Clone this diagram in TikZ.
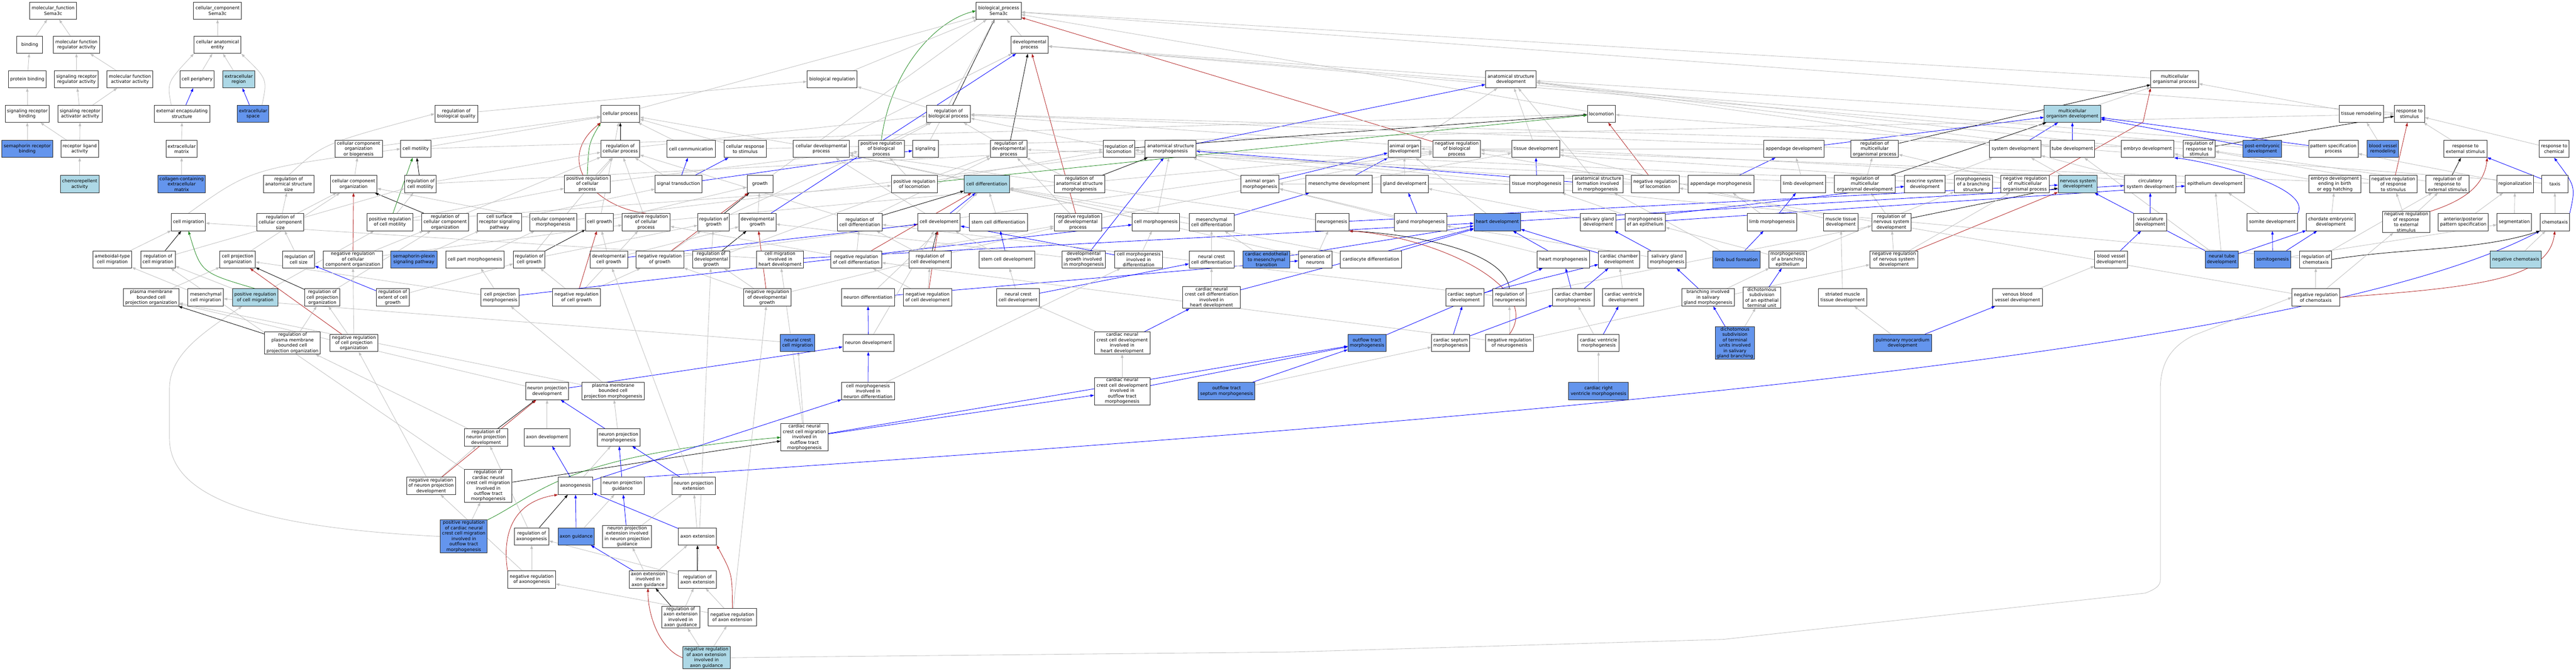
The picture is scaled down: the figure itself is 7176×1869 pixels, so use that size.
\documentclass[tikz,border=0pt]{standalone}
\usepackage{fontspec}
\setmainfont{DejaVu Sans}
\usetikzlibrary{arrows.meta,backgrounds}
\definecolor{cblue}{HTML}{6495ED}
\definecolor{lblue}{HTML}{ADD8E6}
\definecolor{egray}{HTML}{C0C0C0}
\definecolor{eblue}{HTML}{0000FF}
\definecolor{ered}{HTML}{B22222}
\definecolor{egreen}{HTML}{228B22}
\newcommand\mye[3]{\draw[#1] (#2) -- (#3);}
\begin{document}
\begin{tikzpicture}[x=1pt,y=-1pt,
 box/.style={draw=black!85,line width=1.3pt,fill=white,align=center,minimum height=48pt,inner xsep=2pt,inner ysep=2pt,font=\fontsize{12.5}{15}\selectfont},
 bf/.style={fill=cblue}, lf/.style={fill=lblue},
 edgebase/.style={line width=1.2pt,-{Triangle[length=10pt,width=7pt]}},
 isag/.style={edgebase,egray},
 partb/.style={edgebase,eblue},
 regk/.style={edgebase,black},
 posg/.style={edgebase,egreen},
 negr/.style={edgebase,ered}]
\useasboundingbox (0,0) rectangle (7176,1869);
% ---------- molecular function ----------
\node[box,minimum width=130pt] (mf) at (148,30) {molecular\_function\\Sema3c};
\node[box,minimum width=72pt] (binding) at (83,125) {binding};
\node[box,minimum width=128pt] (mfreg) at (213,125) {molecular function\\regulator activity};
\node[box,minimum width=104pt] (protbind) at (76,221) {protein binding};
\node[box,minimum width=122pt] (sigrr) at (213,221) {signaling receptor\\regulator activity};
\node[box,minimum width=128pt] (mfact) at (362,221) {molecular function\\activator activity};
\node[box,minimum width=122pt] (sigrb) at (76,317) {signaling receptor\\binding};
\node[box,minimum width=123pt] (sigra) at (223,317) {signaling receptor\\activator activity};
\node[box,bf,minimum width=141pt] (semarb) at (76,415) {semaphorin receptor\\binding};
\node[box,minimum width=105pt] (rla) at (222,415) {receptor ligand\\activity};
\node[box,lf,minimum width=107pt] (chemorep) at (222,513) {chemorepellent\\activity};
% ---------- cellular component ----------
\node[box,minimum width=133pt] (cc) at (606,30) {cellular\_component\\Sema3c};
\node[box,minimum width=131pt] (cae) at (606,125) {cellular anatomical\\entity};
\node[box,minimum width=94pt] (cellper) at (549,221) {cell periphery};
\node[box,lf,minimum width=88pt] (exreg) at (665,221) {extracellular\\region};
\node[box,minimum width=155pt] (ees) at (507,317) {external encapsulating\\structure};
\node[box,bf,minimum width=88pt] (exspace) at (705,317) {extracellular\\space};
\node[box,minimum width=87pt] (ecm) at (506,415) {extracellular\\matrix};
\node[box,bf,minimum width=133pt] (cecm) at (506,513) {collagen-containing\\extracellular\\matrix};
% ---------- biological process ----------
\node[box,minimum width=125pt] (bp) at (2782,30) {biological\_process\\Sema3c};
\node[box,minimum width=104pt] (devproc) at (2868,125) {developmental\\process};
\node[box,minimum width=140pt] (bioreg) at (2318,221) {biological regulation};
\node[box,minimum width=141pt] (asd) at (4209,221) {anatomical structure\\development};
\node[box,minimum width=133pt] (mop) at (6058,221) {multicellular\\organismal process};
% row 317
\node[box,minimum width=119pt] (rbq) at (1271,317) {regulation of\\biological quality};
\node[box,minimum width=108pt] (cellproc) at (1728,317) {cellular process};
\node[box,minimum width=123pt] (rbp) at (2642,317) {regulation of\\biological process};
\node[box,minimum width=78pt] (loco) at (4461,317) {locomotion};
\node[box,lf,minimum width=157pt] (mod) at (5773,317) {multicellular\\organism development};
\node[box,minimum width=123pt] (tisrem) at (6578,317) {tissue remodeling};
\node[box,minimum width=84pt] (rts) at (6712,317) {response to\\stimulus};
% row 415
\node[box,minimum width=132pt] (ccob) at (999,415) {cellular component\\organization\\or biogenesis};
\node[box,minimum width=84pt] (cellmot) at (1158,415) {cell motility};
\node[box,minimum width=108pt] (rcp) at (1728,415) {regulation of\\cellular process};
\node[box,minimum width=134pt] (cellcomm) at (1925,415) {cell communication};
\node[box,minimum width=117pt] (crs) at (2076,415) {cellular response\\to stimulus};
\node[box,minimum width=156pt] (cdp) at (2288,415) {cellular developmental\\process};
\node[box,minimum width=128pt] (prbp) at (2455,415) {positive regulation\\of biological\\process};
\node[box,minimum width=71pt] (signaling) at (2578,415) {signaling};
\node[box,minimum width=103pt] (rdp) at (2810,415) {regulation of\\developmental\\process};
\node[box,minimum width=88pt] (rloco) at (3117,415) {regulation of\\locomotion};
\node[box,minimum width=142pt] (asm) at (3261,415) {anatomical structure\\morphogenesis};
\node[box,minimum width=91pt] (aod) at (3912,415) {animal organ\\development};
\node[box,minimum width=133pt] (nrbp) at (4058,415) {negative regulation\\of biological\\process};
\node[box,minimum width=134pt] (tisdev) at (4278,415) {tissue development};
\node[box,minimum width=168pt] (appdev) at (4997,415) {appendage development};
\node[box,minimum width=133pt] (rmop) at (5222,415) {regulation of\\multicellular\\organismal process};
\node[box,minimum width=143pt] (sysdev) at (5614,415) {system development};
\node[box,minimum width=124pt] (tubedev) at (5773,415) {tube development};
\node[box,minimum width=146pt] (embdev) at (5983,415) {embryo development};
\node[box,minimum width=89pt] (rrts) at (6126,415) {regulation of\\response to\\stimulus};
\node[box,bf,minimum width=108pt] (ped) at (6302,415) {post-embryonic\\development};
\node[box,minimum width=138pt] (psp) at (6500,415) {pattern specification\\process};
\node[box,bf,minimum width=88pt] (bvr) at (6638,415) {blood vessel\\remodeling};
\node[box,minimum width=120pt] (rtes) at (6868,415) {response to\\external stimulus};
\node[box,minimum width=83pt] (rtc) at (7115,415) {response to\\chemical};
% row 513
\node[box,minimum width=141pt] (rass) at (804,513) {regulation of\\anatomical structure\\size};
\node[box,minimum width=130pt] (cco) at (985,513) {cellular component\\organization};
\node[box,minimum width=88pt] (rcm) at (1171,513) {regulation of\\cell motility};
\node[box,minimum width=128pt] (prcp) at (1636,513) {positive regulation\\of cellular\\process};
\node[box,minimum width=130pt] (sigtrans) at (1890,513) {signal transduction};
\node[box,minimum width=72pt] (growth) at (2117,513) {growth};
\node[box,minimum width=128pt] (prloco) at (2547,513) {positive regulation\\of locomotion};
\node[box,lf,minimum width=126pt] (celldiff) at (2749,513) {cell differentiation};
\node[box,minimum width=141pt] (rasm) at (3007,513) {regulation of\\anatomical structure\\morphogenesis};
\node[box,minimum width=106pt] (aom) at (3510,513) {animal organ\\morphogenesis};
\node[box,minimum width=184pt] (mesdev) at (3730,513) {mesenchyme development};
\node[box,minimum width=131pt] (glanddev) at (3913,513) {gland development};
\node[box,minimum width=150pt] (tismorph) at (4281,513) {tissue morphogenesis};
\node[box,minimum width=140pt] (asfim) at (4451,513) {anatomical structure\\formation involved\\in morphogenesis};
\node[box,minimum width=133pt] (nrloco) at (4611,513) {negative regulation\\of locomotion};
\node[box,minimum width=183pt] (appmorph) at (4794,513) {appendage morphogenesis};
\node[box,minimum width=125pt] (limbdev) at (5023,513) {limb development};
\node[box,minimum width=169pt] (rmod) at (5195,513) {regulation of\\multicellular\\organismal development};
\node[box,minimum width=113pt] (exodev) at (5362,513) {exocrine system\\development};
\node[box,minimum width=106pt] (mbs) at (5497,513) {morphogenesis\\of a branching\\structure};
\node[box,minimum width=134pt] (nrmop) at (5641,513) {negative regulation\\of multicellular\\organismal process};
\node[box,lf,minimum width=109pt] (nsd) at (5788,513) {nervous system\\development};
\node[box,minimum width=144pt] (csd) at (5990,513) {circulatory\\system development};
\node[box,minimum width=165pt] (epidev) at (6170,513) {epithelium development};
\node[box,minimum width=146pt] (edbeh) at (6504,513) {embryo development\\ending in birth\\or egg hatching};
\node[box,minimum width=133pt] (nrrts) at (6667,513) {negative regulation\\of response\\to stimulus};
\node[box,minimum width=121pt] (rrtes) at (6818,513) {regulation of\\response to\\external stimulus};
\node[box,minimum width=102pt] (regionalization) at (7006,513) {regionalization};
\node[box,minimum width=72pt] (taxis) at (7117,513) {taxis};
% row 619
\node[box,minimum width=95pt] (cellmig) at (525,619) {cell migration};
\node[box,minimum width=130pt] (rccs) at (781,619) {regulation of\\cellular component\\size};
\node[box,minimum width=128pt] (prcm) at (1086,619) {positive regulation\\of cell motility};
\node[box,minimum width=131pt] (rcco) at (1240,619) {regulation of\\cellular component\\organization};
\node[box,minimum width=124pt] (csrsp) at (1391,619) {cell surface\\receptor signaling\\pathway};
\node[box,minimum width=130pt] (ccm) at (1541,619) {cellular component\\morphogenesis};
\node[box,minimum width=77pt] (cellgrowth) at (1670,619) {cell growth};
\node[box,minimum width=133pt] (nrcp) at (1800,619) {negative regulation\\of cellular\\process};
\node[box,minimum width=88pt] (rgrowth) at (1988,619) {regulation of\\growth};
\node[box,minimum width=103pt] (devgrowth) at (2110,619) {developmental\\growth};
\node[box,minimum width=125pt] (rcd) at (2395,619) {regulation of\\cell differentiation};
\node[box,minimum width=118pt] (celldev) at (2616,619) {cell development};
\node[box,minimum width=162pt] (scd) at (2781,619) {stem cell differentiation};
\node[box,minimum width=133pt] (nrdp) at (3003,619) {negative regulation\\of developmental\\process};
\node[box,minimum width=132pt] (cellmorph) at (3220,619) {cell morphogenesis};
\node[box,minimum width=125pt] (mcd) at (3375,619) {mesenchymal\\cell differentiation};
\node[box,minimum width=93pt] (neurogenesis) at (3711,619) {neurogenesis};
\node[box,minimum width=146pt] (glandmorph) at (3957,619) {gland morphogenesis};
\node[box,bf,minimum width=130pt] (heartdev) at (4171,619) {heart development};
\node[box,minimum width=98pt] (sgd) at (4452,619) {salivary gland\\development};
\node[box,minimum width=113pt] (moe) at (4583,619) {morphogenesis\\of an epithelium};
\node[box,minimum width=138pt] (limbmorph) at (4936,619) {limb morphogenesis};
\node[box,minimum width=96pt] (mtd) at (5128,619) {muscle tissue\\development};
\node[box,minimum width=110pt] (rnsd) at (5269,619) {regulation of\\nervous system\\development};
\node[box,minimum width=92pt] (vascdev) at (5990,619) {vasculature\\development};
\node[box,minimum width=141pt] (somdev) at (6330,619) {somite development};
\node[box,minimum width=136pt] (ced) at (6493,619) {chordate embryonic\\development};
\node[box,minimum width=133pt] (nrrtes) at (6703,619) {negative regulation\\of response\\to external\\stimulus};
\node[box,minimum width=139pt] (apps) at (6862,619) {anterior/posterior\\pattern specification};
\node[box,minimum width=96pt] (segmentation) at (7004,619) {segmentation};
\node[box,minimum width=82pt] (chemotaxis) at (7117,619) {chemotaxis};
% row 723
\node[box,minimum width=108pt] (atcm) at (313,723) {ameboidal-type\\cell migration};
\node[box,minimum width=96pt] (rcmig) at (440,723) {regulation of\\cell migration};
\node[box,minimum width=99pt] (cpo) at (662,723) {cell projection\\organization};
\node[box,minimum width=89pt] (rcs) at (832,723) {regulation of\\cell size};
\node[box,minimum width=164pt] (nrcco) at (983,723) {negative regulation\\of cellular\\component organization};
\node[box,bf,minimum width=128pt] (sps) at (1153,723) {semaphorin-plexin\\signaling pathway};
\node[box,minimum width=163pt] (cpm) at (1323,723) {cell part morphogenesis};
\node[box,minimum width=87pt] (rcg) at (1474,723) {regulation of\\cell growth};
\node[box,minimum width=104pt] (dcg) at (1696,723) {developmental\\cell growth};
\node[box,minimum width=133pt] (nrg) at (1838,723) {negative regulation\\of growth};
\node[box,minimum width=104pt] (rdg) at (1981,723) {regulation of\\developmental\\growth};
\node[box,minimum width=130pt] (cmihd) at (2173,723) {cell migration\\involved in\\heart development};
\node[box,minimum width=142pt] (nrcd) at (2385,723) {negative regulation\\of cell differentiation};
\node[box,minimum width=118pt] (rcdev) at (2591,723) {regulation of\\cell development};
\node[box,minimum width=155pt] (scdev) at (2805,723) {stem cell development};
\node[box,minimum width=121pt] (dgim) at (3019,723) {developmental\\growth involved\\in morphogenesis};
\node[box,minimum width=133pt] (cmid) at (3172,723) {cell morphogenesis\\involved in\\differentiation};
\node[box,minimum width=125pt] (nccd) at (3375,723) {neural crest\\cell differentiation};
\node[box,bf,minimum width=131pt] (cemt) at (3528,723) {cardiac endothelial\\to mesenchymal\\transition};
\node[box,minimum width=94pt] (gon) at (3664,723) {generation of\\neurons};
\node[box,minimum width=171pt] (cardiodiff) at (3819,723) {cardiocyte differentiation};
\node[box,minimum width=145pt] (heartmorph) at (4355,723) {heart morphogenesis};
\node[box,minimum width=114pt] (ccd) at (4510,723) {cardiac chamber\\development};
\node[box,minimum width=106pt] (sgm) at (4644,723) {salivary gland\\morphogenesis};
\node[box,bf,minimum width=132pt] (lbf) at (4837,723) {limb bud formation};
\node[box,minimum width=106pt] (mobe) at (4980,723) {morphogenesis\\of a branching\\epithelium};
\node[box,minimum width=134pt] (nrnsd) at (5276,723) {negative regulation\\of nervous system\\development};
\node[box,minimum width=92pt] (bvd) at (5881,723) {blood vessel\\development};
\node[box,bf,minimum width=92pt] (ntd) at (6189,723) {neural tube\\development};
\node[box,bf,minimum width=102pt] (somitogenesis) at (6331,723) {somitogenesis};
\node[box,minimum width=89pt] (rchemo) at (6451,723) {regulation of\\chemotaxis};
\node[box,lf,minimum width=143pt] (negchemo) at (7008,723) {negative chemotaxis};
% row 829
\node[box,minimum width=155pt] (pmbcpo) at (421,829) {plasma membrane\\bounded cell\\projection organization};
\node[box,minimum width=99pt] (mcm) at (573,829) {mesenchymal\\cell migration};
\node[box,lf,minimum width=127pt] (prcmig) at (711,829) {positive regulation\\of cell migration};
\node[box,minimum width=98pt] (rcpo) at (898,829) {regulation of\\cell projection\\organization};
\node[box,minimum width=92pt] (recg) at (1094,829) {regulation of\\extent of cell\\growth};
\node[box,minimum width=106pt] (cprojm) at (1393,829) {cell projection\\morphogenesis};
\node[box,minimum width=133pt] (nrcg) at (1606,829) {negative regulation\\of cell growth};
\node[box,minimum width=132pt] (nrdg) at (2137,829) {negative regulation\\of developmental\\growth};
\node[box,minimum width=147pt] (neurondiff) at (2418,829) {neuron differentiation};
\node[box,minimum width=136pt] (nrcdev) at (2584,829) {negative regulation\\of cell development};
\node[box,minimum width=118pt] (nccdev) at (2836,829) {neural crest\\cell development};
\node[box,minimum width=161pt] (cnccdhd) at (3375,829) {cardiac neural\\crest cell differentiation\\involved in\\heart development};
\node[box,minimum width=107pt] (csdev) at (4081,829) {cardiac septum\\development};
\node[box,minimum width=93pt] (rneurogen) at (4205,829) {regulation of\\neurogenesis};
\node[box,minimum width=115pt] (ccmorph) at (4383,829) {cardiac chamber\\morphogenesis};
\node[box,minimum width=115pt] (cvd) at (4522,829) {cardiac ventricle\\development};
\node[box,minimum width=147pt] (bisgm) at (4758,829) {branching involved\\in salivary\\gland morphogenesis};
\node[box,minimum width=104pt] (dseetu) at (4908,829) {dichotomous\\subdivision\\of an epithelial\\terminal unit};
\node[box,minimum width=134pt] (smtd) at (5133,829) {striated muscle\\tissue development};
\node[box,minimum width=138pt] (vbvd) at (5620,829) {venous blood\\vessel development};
\node[box,minimum width=133pt] (nrchemo) at (6451,829) {negative regulation\\of chemotaxis};
% row 956
\node[box,minimum width=155pt] (rpmbcpo) at (815,956) {regulation of\\plasma membrane\\bounded cell\\projection organization};
\node[box,minimum width=133pt] (nrcpo) at (986,956) {negative regulation\\of cell projection\\organization};
\node[box,bf,minimum width=96pt] (nccm) at (2222,956) {neural crest\\cell migration};
\node[box,minimum width=142pt] (neurondev) at (2419,956) {neuron development};
\node[box,minimum width=155pt] (cnccdhd2) at (3126,956) {cardiac neural\\crest cell development\\involved in\\heart development};
\node[box,bf,minimum width=106pt] (otm) at (3808,956) {outflow tract\\morphogenesis};
\node[box,minimum width=106pt] (csm) at (4041,956) {cardiac septum\\morphogenesis};
\node[box,minimum width=133pt] (nrneurogen) at (4205,956) {negative regulation\\of neurogenesis};
\node[box,minimum width=115pt] (cvm) at (4453,956) {cardiac ventricle\\morphogenesis};
\node[box,bf,minimum width=110pt] (dstu) at (4833,956) {dichotomous\\subdivision\\of terminal\\units involved\\in salivary\\gland branching};
\node[box,bf,minimum width=162pt] (pmd) at (5300,956) {pulmonary myocardium\\development};
% row 1090
\node[box,minimum width=119pt] (npd) at (1524,1090) {neuron projection\\development};
\node[box,minimum width=173pt] (pmbcpm) at (1708,1090) {plasma membrane\\bounded cell\\projection morphogenesis};
\node[box,minimum width=147pt] (cmind) at (2418,1090) {cell morphogenesis\\involved in\\neuron differentiation};
\node[box,minimum width=155pt] (cnccdotm) at (3126,1090) {cardiac neural\\crest cell development\\involved in\\outflow tract\\morphogenesis};
\node[box,bf,minimum width=158pt] (otsm) at (3417,1090) {outflow tract\\septum morphogenesis};
\node[box,bf,minimum width=166pt] (crvm) at (4453,1090) {cardiac right\\ventricle morphogenesis};
% row 1219
\node[box,minimum width=120pt] (rnpd) at (1354,1219) {regulation of\\neuron projection\\development};
\node[box,minimum width=128pt] (axondev) at (1524,1219) {axon development};
\node[box,minimum width=119pt] (npm) at (1723,1219) {neuron projection\\morphogenesis};
\node[box,minimum width=131pt] (cnccmotm) at (2241,1219) {cardiac neural\\crest cell migration\\involved in\\outflow tract\\morphogenesis};
% row 1354
\node[box,minimum width=137pt] (nrnpd) at (1201,1354) {negative regulation\\of neuron projection\\development};
\node[box,minimum width=133pt] (rcnccm) at (1360,1354) {regulation of\\cardiac neural\\crest cell migration\\involved in\\outflow tract\\morphogenesis};
\node[box,minimum width=96pt] (axonogenesis) at (1603,1354) {axonogenesis};
\node[box,minimum width=121pt] (npg) at (1734,1354) {neuron projection\\guidance};
\node[box,minimum width=120pt] (npe) at (1932,1354) {neuron projection\\extension};
% row 1495
\node[box,bf,minimum width=131pt] (prcnccm) at (1292,1495) {positive regulation\\of cardiac neural\\crest cell migration\\involved in\\outflow tract\\morphogenesis};
\node[box,minimum width=96pt] (raxon) at (1481,1495) {regulation of\\axonogenesis};
\node[box,bf,minimum width=101pt] (axonguid) at (1605,1495) {axon guidance};
\node[box,minimum width=136pt] (npeinpg) at (1747,1495) {neuron projection\\extension involved\\in neuron projection\\guidance};
\node[box,minimum width=106pt] (axonext) at (1943,1495) {axon extension};
% row 1615
\node[box,minimum width=133pt] (nraxon) at (1481,1615) {negative regulation\\of axonogenesis};
\node[box,minimum width=105pt] (aeiag) at (1805,1615) {axon extension\\involved in\\axon guidance};
\node[box,minimum width=106pt] (raxonext) at (1943,1615) {regulation of\\axon extension};
% row 1720
\node[box,minimum width=106pt] (raeiag) at (1896,1720) {regulation of\\axon extension\\involved in\\axon guidance};
\node[box,minimum width=134pt] (nraxonext) at (2040,1720) {negative regulation\\of axon extension};
% row 1833
\node[box,lf,minimum width=132pt] (nraeiag) at (1968,1833) {negative regulation\\of axon extension\\involved in\\axon guidance};

\begin{pgfonlayer}{background}
\fill[white] (0,0) rectangle (7176,1869);
% MF
\mye{isag}{binding}{mf}\mye{isag}{mfreg}{mf}\mye{isag}{protbind}{binding}
\mye{isag}{sigrr}{mfreg}\mye{isag}{mfact}{mfreg}\mye{isag}{sigrb}{protbind}
\mye{isag}{sigra}{sigrr}\mye{isag}{sigra}{mfact}\mye{isag}{semarb}{sigrb}
\mye{isag}{rla}{sigrb}\mye{isag}{rla}{sigra}\mye{isag}{chemorep}{rla}
% CC
\mye{isag}{cae}{cc}\mye{isag}{cellper}{cae}\mye{isag}{exreg}{cae}
\draw[isag] ([xshift=-30pt]ees.north) .. controls (465,230) .. (cae.south west);
\mye{partb}{ees}{cellper}\mye{partb}{exspace}{exreg}
\draw[isag] ([xshift=25pt]exspace.north) .. controls (745,220) .. (cae.south east);
\mye{isag}{ecm}{ees}\mye{isag}{cecm}{ecm}
% BP top
\mye{isag}{devproc}{bp}\mye{regk}{rbp}{bp}
\draw[posg] (prbp.north) .. controls (2480,200) and (2600,60) .. (bp.west);
\mye{negr}{nrbp}{bp}\mye{isag}{bioreg}{bp}\mye{isag}{cellproc}{bp}
\mye{isag}{mop}{bp}\mye{isag}{rts}{bp}\mye{isag}{loco}{bp}\mye{isag}{growth}{bp}\mye{isag}{signaling}{bp}
\mye{isag}{rbq}{bioreg}\mye{isag}{rbp}{bioreg}\mye{isag}{prbp}{rbp}\mye{isag}{nrbp}{rbp}
\mye{regk}{rcp}{cellproc}\mye{isag}{rcp}{rbp}\mye{isag}{prcp}{rcp}\mye{isag}{prcp}{prbp}
\draw[posg] (prcp.north) .. controls (1640,400) .. (cellproc.south west);
\mye{isag}{nrcp}{rcp}\mye{isag}{nrcp}{nrbp}
\draw[negr] (nrcp.north) .. controls (1660,580) and (1540,450) .. (cellproc.south west);
\mye{isag}{cellcomm}{cellproc}\mye{isag}{crs}{cellproc}\mye{isag}{crs}{rts}
\mye{isag}{cdp}{cellproc}\mye{isag}{cdp}{devproc}
\mye{partb}{sigtrans}{cellcomm}\mye{partb}{sigtrans}{crs}\mye{isag}{sigtrans}{rcp}\mye{partb}{sigtrans}{signaling}
\mye{isag}{csrsp}{sigtrans}\mye{isag}{sps}{csrsp}
\mye{isag}{cellgrowth}{growth}\mye{isag}{cellgrowth}{cellproc}
\mye{isag}{devgrowth}{growth}\mye{partb}{devgrowth}{devproc}
\mye{regk}{rgrowth}{growth}\mye{isag}{rgrowth}{rbp}
\mye{isag}{nrg}{rgrowth}\mye{negr}{nrg}{growth}\mye{isag}{nrg}{nrbp}
\mye{regk}{rdg}{devgrowth}\mye{isag}{rdg}{rgrowth}\mye{isag}{rdg}{rdp}
\mye{isag}{nrdg}{rdg}\mye{isag}{nrdg}{nrg}\mye{negr}{nrdg}{devgrowth}\mye{isag}{nrdg}{nrdp}
\mye{isag}{dcg}{cellgrowth}\mye{isag}{dcg}{devgrowth}\mye{partb}{dcg}{celldev}
\mye{regk}{rcg}{cellgrowth}\mye{isag}{rcg}{rgrowth}\mye{isag}{rcg}{rcp}
\mye{isag}{nrcg}{rcg}\mye{negr}{nrcg}{cellgrowth}\mye{isag}{nrcg}{nrg}\mye{isag}{nrcg}{nrcp}
\mye{isag}{recg}{rcg}\mye{partb}{recg}{rcs}
\mye{isag}{rcs}{rccs}\mye{isag}{rccs}{rass}\mye{isag}{rccs}{cco}
\draw[isag] (rass.north) .. controls (900,400) .. (rbq.west);
\mye{isag}{ccob}{cellproc}\mye{isag}{cco}{ccob}
\mye{regk}{rcco}{cco}\mye{isag}{rcco}{rcp}
\mye{isag}{nrcco}{rcco}\mye{negr}{nrcco}{cco}\mye{isag}{nrcco}{nrcp}
\mye{isag}{cellmot}{cellproc}\mye{isag}{cellmot}{loco}
\mye{regk}{rcm}{cellmot}\mye{isag}{rcm}{rloco}\mye{isag}{rcm}{rcp}
\mye{isag}{prcm}{rcm}\mye{posg}{prcm}{cellmot}\mye{isag}{prcm}{prloco}\mye{isag}{prcm}{prcp}
\draw[isag] (cellmig.north) .. controls (700,470) .. (cellmot.west);
\mye{regk}{rcmig}{cellmig}\mye{isag}{rcmig}{rcm}
\draw[posg] (prcmig.north) .. controls (560,760) .. (cellmig.south);
\mye{isag}{prcmig}{rcmig}\mye{isag}{prcmig}{prcm}
\mye{isag}{atcm}{cellmig}\mye{isag}{mcm}{atcm}\mye{isag}{nccm}{mcm}
\mye{isag}{cmihd}{cellmig}\mye{partb}{cmihd}{heartdev}
\mye{isag}{cnccmotm}{nccm}\mye{isag}{cnccmotm}{cmihd}\mye{partb}{cnccmotm}{otm}\mye{partb}{cnccmotm}{cnccdotm}
\mye{regk}{rcnccm}{cnccmotm}\mye{isag}{rcnccm}{rcmig}
\mye{isag}{prcnccm}{rcnccm}
\draw[posg] (prcnccm.north east) .. controls (1500,1380) and (1560,1270) .. (cnccmotm.west);
\draw[isag] (prcnccm.west) .. controls (700,1470) and (472,1380) .. (472,1221) -- (472,1084) .. controls (472,990) and (560,930) .. (prcmig);
% cell projection
\mye{isag}{cpo}{cco}\mye{isag}{pmbcpo}{cpo}
\mye{regk}{rcpo}{cpo}\mye{isag}{rcpo}{rcco}
\mye{isag}{nrcpo}{rcpo}\mye{negr}{nrcpo}{cpo}\mye{isag}{nrcpo}{nrcco}
\mye{regk}{rpmbcpo}{pmbcpo}\mye{isag}{rpmbcpo}{rcpo}
\mye{isag}{ccm}{asm}\mye{isag}{ccm}{cco}\mye{isag}{cpm}{ccm}
\mye{isag}{cprojm}{cpm}\mye{isag}{cprojm}{cpo}\mye{partb}{cprojm}{cellmorph}
\mye{isag}{pmbcpm}{cprojm}\mye{isag}{pmbcpm}{pmbcpo}
\mye{isag}{npm}{pmbcpm}\mye{partb}{npm}{npd}
\mye{partb}{npd}{neurondev}\mye{isag}{npd}{pmbcpo}
\mye{regk}{rnpd}{npd}\mye{isag}{rnpd}{rpmbcpo}
\mye{isag}{nrnpd}{rnpd}\mye{negr}{nrnpd}{npd}\mye{isag}{nrnpd}{nrcpo}
\mye{isag}{axondev}{npd}
\mye{partb}{axonogenesis}{axondev}\mye{isag}{axonogenesis}{npm}\mye{partb}{axonogenesis}{cmind}
\mye{partb}{npg}{npm}
\draw[partb] (npg.north east) .. controls (4000,1180) and (6400,1000) .. (chemotaxis.south west);
\mye{partb}{npe}{npm}\mye{isag}{npe}{dcg}
\mye{partb}{axonext}{axonogenesis}\mye{isag}{axonext}{npe}
\mye{partb}{npeinpg}{npg}\mye{isag}{npeinpg}{npe}
\mye{partb}{axonguid}{axonogenesis}\mye{isag}{axonguid}{npg}
\mye{partb}{aeiag}{axonguid}\mye{isag}{aeiag}{axonext}\mye{isag}{aeiag}{npeinpg}
\mye{regk}{raxon}{axonogenesis}\mye{isag}{raxon}{rnpd}
\mye{isag}{nraxon}{raxon}
\draw[negr] (nraxon.north west) .. controls (1400,1500) and (1420,1400) .. (axonogenesis.south west);
\mye{isag}{nraxon}{nrnpd}
\mye{regk}{raxonext}{axonext}\mye{isag}{raxonext}{raxon}\mye{isag}{raxonext}{rdg}
\mye{isag}{nraxonext}{raxonext}
\draw[negr] (nraxonext.north) .. controls (2040,1600) .. (axonext.south east);
\mye{isag}{nraxonext}{nraxon}\mye{isag}{nraxonext}{nrdg}
\mye{regk}{raeiag}{aeiag}\mye{isag}{raeiag}{raxonext}
\mye{isag}{nraeiag}{raeiag}\mye{isag}{nraeiag}{nraxonext}
\draw[negr] (nraeiag.west) .. controls (1840,1810) and (1805,1720) .. (aeiag.south);
\draw[isag] (nraeiag.east) .. controls (2300,1830) .. (2400,1829) -- (3600,1817) -- (4800,1782) -- (5976,1653) .. controls (6010,1640) and (6018,1630) .. (6018,1615) -- (6018,1084) .. controls (6018,1000) and (6060,960) .. (6110,935) -- (nrchemo.west);
% cell differentiation / development
\mye{isag}{celldiff}{cdp}\mye{partb}{celldev}{celldiff}\mye{isag}{celldev}{cdp}
\mye{regk}{rcd}{celldiff}\mye{isag}{rcd}{rdp}\mye{isag}{rcd}{rcp}
\mye{isag}{nrcd}{rcd}\mye{negr}{nrcd}{celldiff}\mye{isag}{nrcd}{nrdp}\mye{isag}{nrcd}{nrcp}
\mye{regk}{rcdev}{celldev}\mye{isag}{rcdev}{rcd}
\mye{isag}{nrcdev}{rcdev}\mye{negr}{nrcdev}{celldev}\mye{isag}{nrcdev}{nrcd}
\mye{isag}{scd}{celldiff}\mye{partb}{scdev}{scd}\mye{isag}{scdev}{celldev}
\mye{isag}{nccd}{mcd}\mye{partb}{nccdev}{nccd}\mye{isag}{nccdev}{scdev}
\mye{isag}{mcd}{celldiff}\mye{partb}{mcd}{mesdev}
\mye{isag}{cemt}{mcd}\mye{partb}{cemt}{heartdev}
\mye{isag}{neurondiff}{celldiff}\mye{partb}{neurondiff}{gon}
\mye{isag}{neurondev}{celldev}\mye{partb}{neurondev}{neurondiff}
\mye{isag}{cmind}{cmid}\mye{partb}{cmind}{neurondev}
\mye{isag}{cmid}{cellmorph}\mye{partb}{cmid}{celldev}
\mye{isag}{cellmorph}{asm}\mye{isag}{cellmorph}{cdp}
\mye{isag}{dgim}{devgrowth}\mye{partb}{dgim}{asm}
\mye{isag}{cnccdhd}{nccd}\mye{partb}{cnccdhd}{heartdev}
\mye{partb}{cnccdhd2}{cnccdhd}\mye{isag}{cnccdhd2}{nccdev}
\mye{isag}{cnccdotm}{cnccdhd2}\mye{partb}{cnccdotm}{otm}
\mye{partb}{otsm}{otm}\mye{isag}{otsm}{csm}
% anatomical structure
\mye{isag}{asd}{devproc}\mye{partb}{asm}{asd}
\mye{regk}{rasm}{asm}\mye{isag}{rasm}{rdp}
\mye{regk}{rdp}{devproc}\mye{isag}{rdp}{rbp}
\mye{isag}{nrdp}{rdp}\mye{negr}{nrdp}{devproc}\mye{isag}{nrdp}{nrbp}
\mye{isag}{mod}{asd}\mye{isag}{mod}{mop}
\mye{partb}{sysdev}{mod}\mye{isag}{sysdev}{asd}
\mye{isag}{tubedev}{asd}\mye{partb}{tubedev}{mod}
\mye{isag}{embdev}{asd}
\mye{isag}{aod}{asd}\mye{partb}{aom}{aod}\mye{isag}{aom}{asm}
\mye{partb}{mesdev}{aod}\mye{isag}{mesdev}{tisdev}
\mye{isag}{tisdev}{asd}\mye{partb}{tismorph}{tisdev}\mye{isag}{tismorph}{asm}
\mye{partb}{asfim}{asm}\mye{isag}{asfim}{asd}
\mye{regk}{rloco}{loco}\mye{isag}{rloco}{rbp}
\mye{posg}{prloco}{loco}\mye{isag}{prloco}{rloco}\mye{isag}{prloco}{prbp}
\mye{negr}{nrloco}{loco}\mye{isag}{nrloco}{rloco}\mye{isag}{nrloco}{nrbp}
\mye{isag}{appdev}{aod}\mye{partb}{appdev}{mod}
\mye{partb}{appmorph}{appdev}\mye{isag}{appmorph}{aom}
\mye{isag}{limbdev}{appdev}\mye{partb}{limbmorph}{limbdev}\mye{isag}{limbmorph}{appmorph}
\mye{partb}{lbf}{limbmorph}\mye{isag}{lbf}{asfim}
\mye{regk}{rmop}{mop}\mye{isag}{rmop}{rbp}
\mye{regk}{rmod}{mod}\mye{isag}{rmod}{rmop}\mye{isag}{rmod}{rdp}
\mye{isag}{nrmop}{rmop}\mye{isag}{nrmop}{nrbp}
\draw[negr] (nrmop.north east) -- (5970,340) -- (mop.south west);
\mye{isag}{nsd}{sysdev}
\mye{regk}{rnsd}{nsd}\mye{isag}{rnsd}{rmod}
\mye{isag}{nrnsd}{rnsd}\mye{negr}{nrnsd}{nsd}\mye{isag}{nrnsd}{nrmop}
\draw[regk] (rneurogen.north) .. controls (4190,690) and (3900,650) .. (neurogenesis.south east);
\mye{isag}{rneurogen}{rnsd}\mye{isag}{rneurogen}{rcd}
\mye{isag}{nrneurogen}{rneurogen}
\draw[negr] (nrneurogen.north) .. controls (4300,800) and (4000,660) .. (neurogenesis.south east);
\mye{isag}{nrneurogen}{nrnsd}\mye{isag}{nrneurogen}{nrcd}
\mye{partb}{neurogenesis}{nsd}\mye{isag}{neurogenesis}{cdp}
\mye{isag}{gon}{neurogenesis}\mye{isag}{gon}{celldiff}
\mye{isag}{exodev}{sysdev}\mye{isag}{glanddev}{aod}
\mye{partb}{glandmorph}{glanddev}\mye{isag}{glandmorph}{aom}
\mye{isag}{sgd}{glanddev}\mye{partb}{sgd}{exodev}
\mye{partb}{sgm}{sgd}\mye{isag}{sgm}{glandmorph}
\mye{partb}{bisgm}{sgm}\mye{isag}{bisgm}{mobe}
\mye{partb}{dstu}{bisgm}\mye{isag}{dstu}{dseetu}
\mye{partb}{dseetu}{mobe}
\mye{isag}{mobe}{mbs}\mye{isag}{mobe}{moe}\mye{isag}{mbs}{asm}
\mye{partb}{moe}{epidev}\mye{isag}{moe}{tismorph}
\mye{isag}{epidev}{tisdev}
\mye{partb}{heartdev}{csd}\mye{isag}{heartdev}{aod}
\mye{partb}{heartmorph}{heartdev}\mye{isag}{heartmorph}{aom}
\mye{partb}{ccd}{heartdev}
\mye{partb}{ccmorph}{ccd}\mye{partb}{ccmorph}{heartmorph}
\mye{isag}{cvd}{ccd}\mye{partb}{cvm}{cvd}\mye{isag}{cvm}{ccmorph}\mye{isag}{crvm}{cvm}
\mye{partb}{csdev}{ccd}
\mye{partb}{csm}{csdev}\mye{partb}{csm}{ccmorph}
\mye{partb}{otm}{heartmorph}
\mye{partb}{cardiodiff}{heartdev}\mye{isag}{cardiodiff}{celldiff}
\mye{isag}{pmd}{smtd}\mye{partb}{pmd}{vbvd}
\mye{isag}{smtd}{mtd}\mye{isag}{mtd}{tisdev}
\mye{isag}{vbvd}{bvd}\mye{partb}{bvd}{vascdev}\mye{partb}{vascdev}{csd}\mye{isag}{csd}{sysdev}
\mye{isag}{bvr}{tisrem}\mye{isag}{tisrem}{mop}
% response to stimulus
\mye{regk}{rrts}{rts}\mye{isag}{rrts}{rbp}
\mye{isag}{nrrts}{rrts}\mye{negr}{nrrts}{rts}\mye{isag}{nrrts}{nrbp}
\mye{isag}{rtes}{rts}\mye{regk}{rrtes}{rtes}\mye{isag}{rrtes}{rrts}
\mye{isag}{nrrtes}{rrtes}\mye{isag}{nrrtes}{nrrts}
\draw[negr] (nrrtes.north east) .. controls (6860,560) and (6920,520) .. (rtes.south east);
\mye{isag}{rtc}{rts}
\mye{partb}{taxis}{rtes}\mye{isag}{taxis}{loco}
\mye{isag}{chemotaxis}{taxis}
\draw[partb] (chemotaxis.north east) .. controls (7175,520) .. (rtc.south);
\mye{isag}{negchemo}{chemotaxis}
\draw[regk] (rchemo.east) .. controls (6700,690) and (6900,700) .. (chemotaxis.south west);
\mye{isag}{rchemo}{rrtes}\mye{isag}{rchemo}{rloco}
\mye{isag}{nrchemo}{rchemo}
\draw[negr] (nrchemo.east) .. controls (6900,800) and (7100,780) .. (chemotaxis.south);
\mye{isag}{nrchemo}{nrrtes}\mye{isag}{nrchemo}{nrloco}
\mye{isag}{psp}{devproc}\mye{isag}{regionalization}{psp}
\mye{isag}{apps}{regionalization}\mye{isag}{segmentation}{regionalization}
\mye{isag}{ped}{devproc}\mye{partb}{ped}{mod}\mye{partb}{psp}{mod}
\draw[partb] (somdev.north east) .. controls (6440,520) and (6150,450) .. (embdev.south east);
\mye{isag}{somdev}{epidev}
\mye{partb}{somitogenesis}{somdev}\mye{partb}{somitogenesis}{ced}\mye{isag}{somitogenesis}{segmentation}
\mye{partb}{ntd}{ced}\mye{isag}{ntd}{epidev}\mye{partb}{ntd}{nsd}\mye{isag}{ntd}{tubedev}
\mye{isag}{ced}{edbeh}\mye{isag}{edbeh}{embdev}
\end{pgfonlayer}
\end{tikzpicture}
\end{document}
